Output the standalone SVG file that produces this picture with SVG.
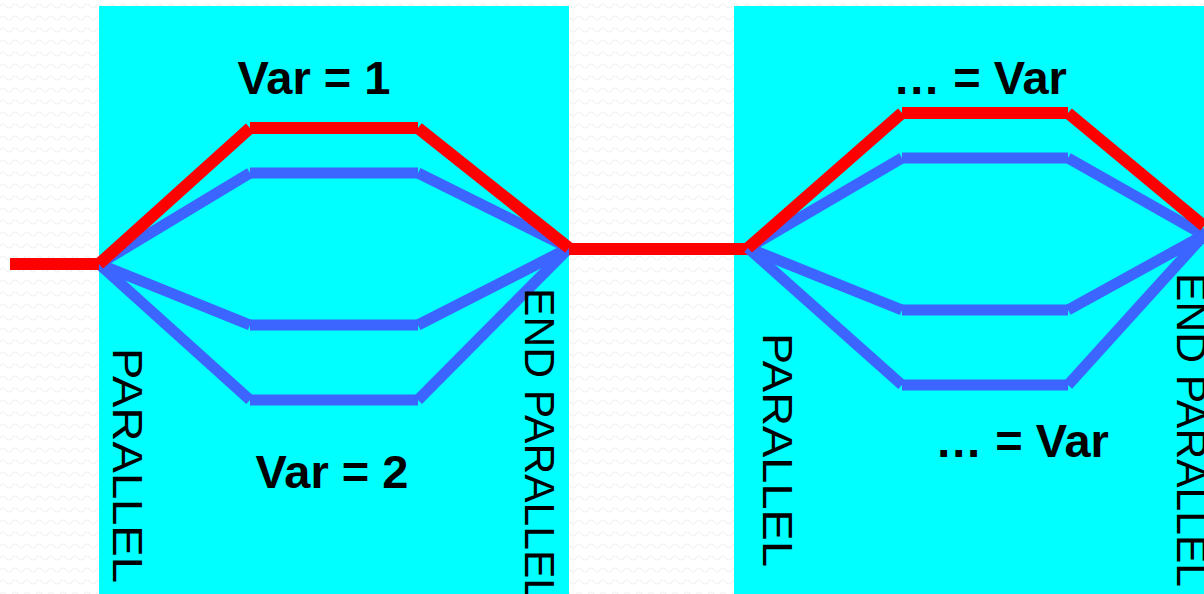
<svg xmlns="http://www.w3.org/2000/svg" width="1204" height="594" viewBox="0 0 1204 594">
  <defs>
    <pattern id="bgwave" width="12" height="12" patternUnits="userSpaceOnUse">
      <path d="M0 6 Q3 2 6 6 T12 6" fill="none" stroke="#f1f1f1" stroke-width="1.2"/>
    </pattern>
  </defs>
  <style>
    .panel { fill: #00ffff; }
    .red { stroke: #ff0000; stroke-width: 12; stroke-linecap: butt; fill: none; }
    .blue { stroke: #3c64ff; stroke-width: 11; stroke-linecap: butt; fill: none; }
    .lbl { font-family: "Liberation Sans", Arial, sans-serif; font-weight: bold; font-size: 47px; fill: #000; text-anchor: middle; }
    .vlbl { font-family: "Liberation Sans", Arial, sans-serif; font-size: 42px; fill: #000; }
  </style>
  <rect width="1204" height="594" fill="#ffffff"/>
  <rect width="1204" height="594" fill="url(#bgwave)"/>

  <g id="block-left">
    <rect class="panel" x="99" y="6" width="470" height="588"/>
  </g>
  <g id="block-right">
    <rect class="panel" x="734" y="6" width="470" height="588"/>
  </g>

  <g id="connectors">
    <g id="left-branches">
      <line class="blue" x1="99" y1="264" x2="250" y2="173"/>
      <line class="blue" x1="250" y1="173" x2="418" y2="173"/>
      <line class="blue" x1="418" y1="173" x2="569" y2="248"/>
      <line class="blue" x1="99" y1="264" x2="250" y2="325"/>
      <line class="blue" x1="250" y1="325" x2="418" y2="325"/>
      <line class="blue" x1="418" y1="325" x2="569" y2="248"/>
      <line class="blue" x1="99" y1="264" x2="250" y2="400"/>
      <line class="blue" x1="250" y1="400" x2="418" y2="400"/>
      <line class="blue" x1="418" y1="400" x2="569" y2="248"/>
      <line class="red" x1="10" y1="264" x2="99" y2="264"/>
      <line class="red" x1="99" y1="264" x2="250" y2="128"/>
      <line class="red" x1="250" y1="128" x2="418" y2="128"/>
      <line class="red" x1="418" y1="128" x2="569" y2="248"/>
    </g>
    <line class="red" x1="569" y1="249" x2="748" y2="249"/>
    <g id="right-branches">
      <line class="blue" x1="748" y1="248" x2="902" y2="158"/>
      <line class="blue" x1="902" y1="158" x2="1068" y2="158"/>
      <line class="blue" x1="1068" y1="158" x2="1204" y2="235"/>
      <line class="blue" x1="748" y1="248" x2="902" y2="310"/>
      <line class="blue" x1="902" y1="310" x2="1068" y2="310"/>
      <line class="blue" x1="1068" y1="310" x2="1204" y2="235"/>
      <line class="blue" x1="748" y1="248" x2="902" y2="385"/>
      <line class="blue" x1="902" y1="385" x2="1068" y2="385"/>
      <line class="blue" x1="1068" y1="385" x2="1204" y2="235"/>
      <line class="red" x1="748" y1="248" x2="902" y2="113"/>
      <line class="red" x1="902" y1="113" x2="1068" y2="113"/>
      <line class="red" x1="1068" y1="113" x2="1204" y2="226"/>
    </g>
  </g>

  <g id="labels">
    <text class="lbl" x="314" y="94">Var = 1</text>
    <text class="lbl" x="332" y="488">Var = 2</text>
    <text class="lbl" x="980" y="94">… = Var</text>
    <text class="lbl" x="1022" y="457">… = Var</text>
    <text class="vlbl" transform="translate(113,348) rotate(90)" textLength="235" lengthAdjust="spacingAndGlyphs">PARALLEL</text>
    <text class="vlbl" transform="translate(525,288) rotate(90)" textLength="314" lengthAdjust="spacingAndGlyphs">END PARALLEL</text>
    <text class="vlbl" transform="translate(763,333) rotate(90)" textLength="234" lengthAdjust="spacingAndGlyphs">PARALLEL</text>
    <text class="vlbl" transform="translate(1177,273) rotate(90)" textLength="314" lengthAdjust="spacingAndGlyphs">END PARALLEL</text>
  </g>
</svg>
